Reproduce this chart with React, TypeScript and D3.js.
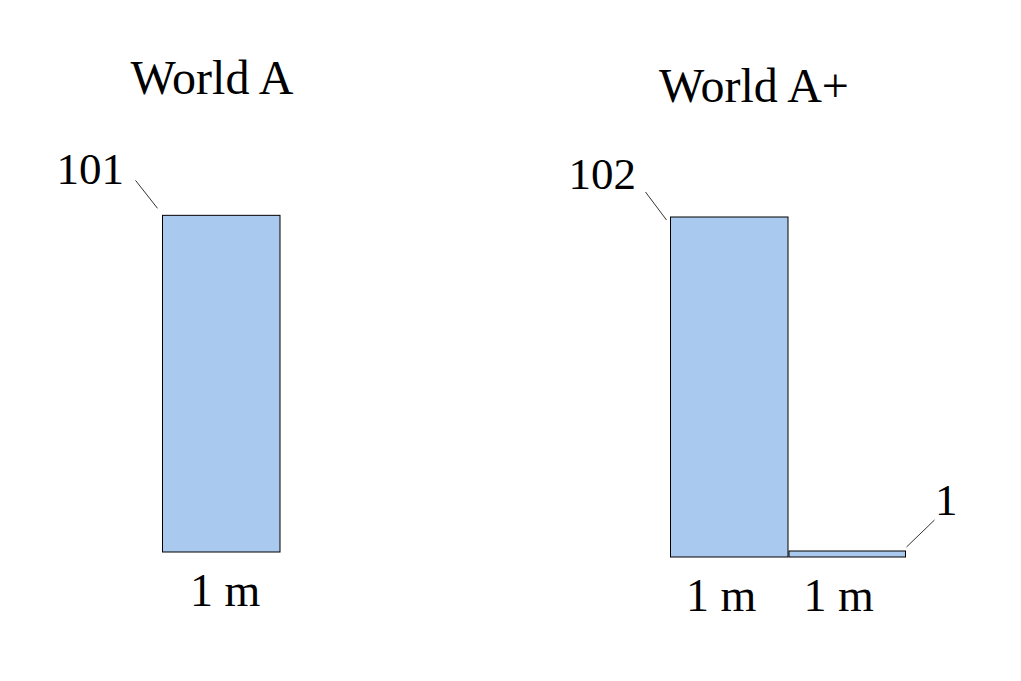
import React from "react";
import * as d3 from "d3";

// ---- data ----
const panelTitles = ["World A", "World A+"];
const worldAValues = [101];
const worldAPlusValues = [102, 1];
const worldAWidths = ["1 m"];
const worldAPlusWidths = ["1 m", "1 m"];

const W = 1021;
const H = 681;
const FONT = '"Liberation Serif", "Times New Roman", serif';
const FILL = "#a9caee";

type Panel = {
  title: string;
  values: number[];
  widths: string[];
  x0: number;
  base: number;
  titleX: number;
  titleY: number;
  widthLabelDx: number;
  widthLabelY: number;
  callouts: { lx: number; ly: number; anchor: string; corner: "tl" | "tr"; sx: number; sy: number; ex: number; ey: number }[];
};

const panels: Panel[] = [
  {
    title: panelTitles[0],
    values: worldAValues,
    widths: worldAWidths,
    x0: 162.5,
    base: 552,
    titleX: 212,
    titleY: 94,
    widthLabelDx: 4,
    widthLabelY: 606,
    callouts: [
      { lx: 124, ly: 184, anchor: "end", corner: "tl", sx: -27, sy: -35, ex: -5, ey: -7 },
    ],
  },
  {
    title: panelTitles[1],
    values: worldAPlusValues,
    widths: worldAPlusWidths,
    x0: 670.5,
    base: 557,
    titleX: 754,
    titleY: 102,
    widthLabelDx: -8,
    widthLabelY: 611,
    callouts: [
      { lx: 636, ly: 189, anchor: "end", corner: "tl", sx: -25, sy: -25, ex: -4, ey: 3 },
      { lx: 935, ly: 515, anchor: "start", corner: "tr", sx: 29, sy: -31, ex: 1, ey: -4 },
    ],
  },
];

const barMeters = 117.5; // px per metre of bar width

export default function App() {
  return (
    <svg
      width={W}
      height={H}
      style={{ position: "absolute", left: 0, top: 0, background: "#fff", fontFamily: FONT }}
    >
      {panels.map((p, pi) => {
        const x = d3.scaleLinear().domain([0, 1]).range([p.x0, p.x0 + barMeters]);
        const y = d3.scaleLinear().domain([0, 102]).range([p.base, p.base - 340]);
        return (
          <g key={pi}>
            <text x={p.titleX} y={p.titleY} fontSize={48} textAnchor="middle" fill="#000" style={{ fontFamily: FONT }}>
              {p.title}
            </text>
            {p.values.map((v, i) => {
              const bx = x(i) + (i > 0 ? 1 : 0);
              const bw = x(i + 1) - x(i) - (i > 0 ? 1 : 0);
              const bh = Math.max(y(0) - y(v), 6);
              const by = y(0) - bh;
              const c = p.callouts[i];
              const cx = c.corner === "tl" ? bx : bx + bw;
              return (
                <g key={i}>
                  <rect x={bx} y={by} width={bw} height={bh} fill={FILL} stroke="#000" strokeWidth={1} />
                  <line
                    x1={cx + c.sx}
                    y1={by + c.sy}
                    x2={cx + c.ex}
                    y2={by + c.ey}
                    stroke="#000"
                    strokeWidth={0.8}
                  />
                  <text x={c.lx} y={c.ly} fontSize={45} textAnchor={c.anchor} fill="#000" style={{ fontFamily: FONT }}>
                    {d3.format("d")(v)}
                  </text>
                  <text
                    x={(x(i) + x(i + 1)) / 2 + p.widthLabelDx}
                    y={p.widthLabelY}
                    fontSize={46}
                    textAnchor="middle"
                    fill="#000"
                    style={{ fontFamily: FONT }}
                  >
                    {p.widths[i]}
                  </text>
                </g>
              );
            })}
          </g>
        );
      })}
    </svg>
  );
}
